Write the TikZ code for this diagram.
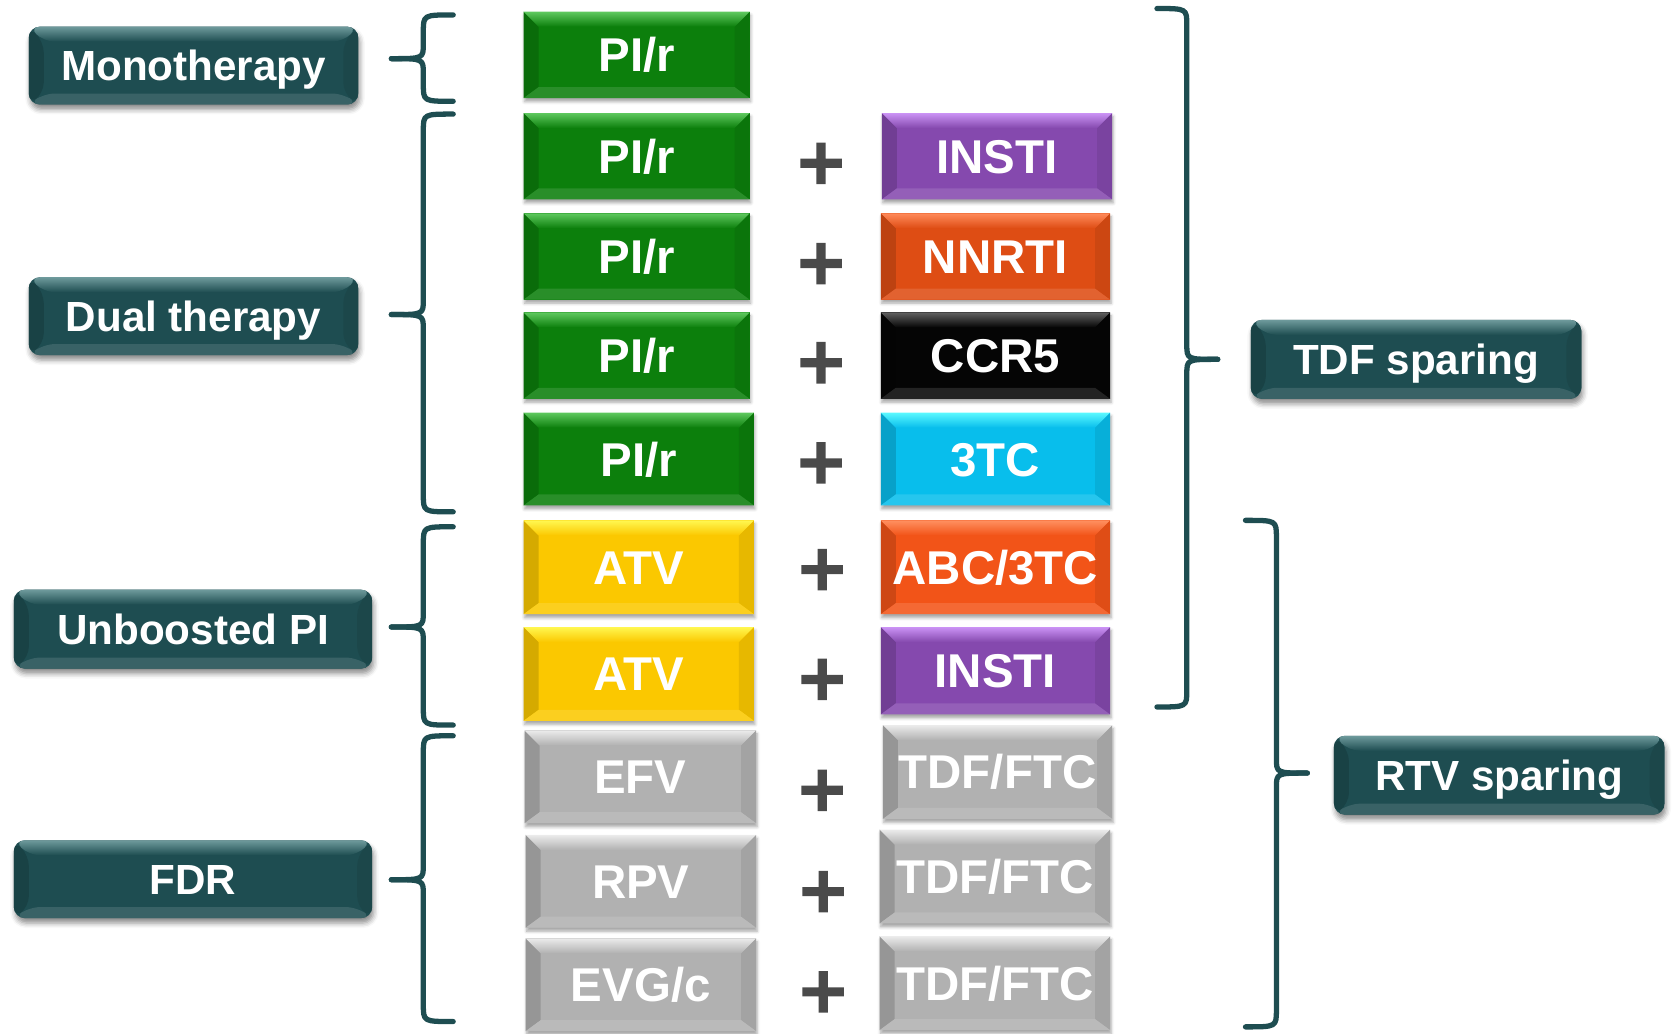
\documentclass[tikz,border=0pt]{standalone}
\usepackage{fontspec}
\setmainfont{Liberation Sans}
\newfontfamily\plusfont{DejaVu Sans}[BoldFeatures={FakeBold=3}]
\usetikzlibrary{shadows,shadows.blur,calc}
\definecolor{teal1}{HTML}{1E4D51}
\definecolor{tealtop}{HTML}{6E9A9C}
\definecolor{green1}{HTML}{0C7F0C}
\definecolor{greentop}{HTML}{5EC85E}
\definecolor{purple1}{HTML}{8549AE}
\definecolor{purpletop}{HTML}{CB93F5}
\definecolor{orange1}{HTML}{DE4D14}
\definecolor{orangetop}{HTML}{FF8A5A}
\definecolor{orange2}{HTML}{F25418}
\definecolor{orange2top}{HTML}{FF9060}
\definecolor{black1}{HTML}{050505}
\definecolor{blacktop}{HTML}{606060}
\definecolor{cyan1}{HTML}{08BEEC}
\definecolor{cyantop}{HTML}{5AF8FF}
\definecolor{yellow1}{HTML}{FBC800}
\definecolor{yellowtop}{HTML}{FFF750}
\definecolor{gray1}{HTML}{B1B1B1}
\definecolor{graytop}{HTML}{EBEBEB}
\definecolor{plusgray}{HTML}{4A4A4A}
\newcommand\pxu{0.021327cm}
\newcommand\bracegrp[6]{% xend, xv, xtip, y1, ytip, y2
  \draw[brc] (#1,#4) .. controls (#2,#4) .. (#2,#4+16) -- (#2,#5-14) .. controls (#2,#5) .. (#3,#5);
  \draw[brc] (#3,#5) .. controls (#2,#5) .. (#2,#5+14) -- (#2,#6-16) .. controls (#2,#6) .. (#1,#6);
}
\tikzset{
  bevelpic/.style 2 args={
    path picture={
      \path (path picture bounding box.north west) coordinate (pNW)
            (path picture bounding box.north east) coordinate (pNE)
            (path picture bounding box.south west) coordinate (pSW)
            (path picture bounding box.south east) coordinate (pSE);
      \fill[#1!85!black] (pNW) -- ($(pNW)+(0.3cm,-0.3cm)$) -- ($(pSW)+(0.3cm,0.22cm)$) -- (pSW) -- cycle;
      \fill[#1!92!black] (pNE) -- ($(pNE)+(-0.3cm,-0.3cm)$) -- ($(pSE)+(-0.3cm,0.22cm)$) -- (pSE) -- cycle;
      \fill[#1!88!white] (pSW) -- ($(pSW)+(0.3cm,0.22cm)$) -- ($(pSE)+(-0.3cm,0.22cm)$) -- (pSE) -- cycle;
      \shade[top color=#2, bottom color=#1] (pNW) -- (pNE) -- ($(pNE)+(-0.3cm,-0.3cm)$) -- ($(pNW)+(0.3cm,-0.3cm)$) -- cycle;
    }
  },
  drug/.style 2 args={
    fill=#1, text=white, inner sep=0pt,
    font=\bfseries\fontsize{27}{30}\selectfont,
    text height=19.3pt, text depth=0pt,
    blur shadow={shadow xshift=0.02cm, shadow yshift=-0.07cm, shadow blur radius=0.06cm, shadow opacity=35},
    bevelpic={#1}{#2}
  },
  lab/.style={
    fill=teal1, text=white, inner sep=0pt, rounded corners=0.22cm,
    font=\bfseries\fontsize{24}{28}\selectfont,
    text height=17.2pt, text depth=0pt,
    minimum width=309*\pxu, minimum height=73*\pxu,
    blur shadow={shadow xshift=0.03cm, shadow yshift=-0.1cm, shadow blur radius=0.1cm, shadow opacity=45},
    bevelpic={teal1}{tealtop}
  },
  plussign/.style={text=plusgray, inner sep=0pt,
    font=\plusfont\bfseries\fontsize{36}{38}\selectfont, text height=25.2pt, text depth=0pt},
  brc/.style={draw=teal1, line width=3pt, line cap=round, line join=round},
}
\begin{document}
\begin{tikzpicture}[x=0.021327cm, y=-0.021327cm]
\useasboundingbox (0,0) rectangle (1568,969);

% category labels
\node[lab] (mono) at (181.5,61.5) {Monotherapy};
\node[lab] (dual) at (181.5,296.5) {Dual therapy};
\node[lab, minimum width=336*\pxu, minimum height=74*\pxu] (unb) at (181,590) {Unboosted PI};
\node[lab, minimum width=336*\pxu] (fdr) at (181,824.5) {FDR};
\node[lab, minimum width=310*\pxu, minimum height=74*\pxu] (tdf) at (1328,337) {TDF sparing};
\node[lab, minimum width=310*\pxu, minimum height=74*\pxu] (rtv) at (1406,727) {RTV sparing};

% left column
\node[drug={green1}{greentop}, minimum width=212*\pxu, minimum height=81*\pxu] (l1) at (597,51.5) {PI/r};
\node[drug={green1}{greentop}, minimum width=212*\pxu, minimum height=81*\pxu] (l2) at (597,146.5) {PI/r};
\node[drug={green1}{greentop}, minimum width=212*\pxu, minimum height=81*\pxu] (l3) at (597,240.5) {PI/r};
\node[drug={green1}{greentop}, minimum width=212*\pxu, minimum height=81*\pxu] (l4) at (597,333.5) {PI/r};
\node[drug={green1}{greentop}, minimum width=216*\pxu, minimum height=87*\pxu] (l5) at (599,430.5) {PI/r};
\node[drug={yellow1}{yellowtop}, minimum width=216*\pxu, minimum height=88*\pxu] (l6) at (599,532) {ATV};
\node[drug={yellow1}{yellowtop}, minimum width=216*\pxu, minimum height=88*\pxu] (l7) at (599,632) {ATV};
\node[drug={gray1}{graytop}, minimum width=217*\pxu, minimum height=87*\pxu] (l8) at (600.5,728.5) {EFV};
\node[drug={gray1}{graytop}, minimum width=216*\pxu, minimum height=87*\pxu] (l9) at (601,826.5) {RPV};
\node[drug={gray1}{graytop}, minimum width=216*\pxu, minimum height=87*\pxu] (l10) at (601,923.5) {EVG/c};

% right column
\node[drug={purple1}{purpletop}, minimum width=216*\pxu, minimum height=81*\pxu] (r2) at (935,146.5) {INSTI};
\node[drug={orange1}{orangetop}, minimum width=215*\pxu, minimum height=81*\pxu] (r3) at (933.5,240.5) {NNRTI};
\node[drug={black1}{blacktop}, minimum width=215*\pxu, minimum height=81*\pxu] (r4) at (933.5,333.5) {CCR5};
\node[drug={cyan1}{cyantop}, minimum width=215*\pxu, minimum height=87*\pxu] (r5) at (933.5,430.5) {3TC};
\node[drug={orange2}{orange2top}, minimum width=215*\pxu, minimum height=88*\pxu] (r6) at (933.5,532) {ABC/3TC};
\node[drug={purple1}{purpletop}, minimum width=215*\pxu, minimum height=82*\pxu] (r7) at (933.5,629) {INSTI};
\node[drug={gray1}{graytop}, minimum width=215*\pxu, minimum height=88*\pxu] (r8) at (935.5,724) {TDF/FTC};
\node[drug={gray1}{graytop}, minimum width=216*\pxu, minimum height=88*\pxu] (r9) at (933,822) {TDF/FTC};
\node[drug={gray1}{graytop}, minimum width=216*\pxu, minimum height=88*\pxu] (r10) at (933,922) {TDF/FTC};

% plus signs
\node[plussign] (p2) at (770,151) {+};
\node[plussign] (p3) at (770,245) {+};
\node[plussign] (p4) at (770,338) {+};
\node[plussign] (p5) at (770,432) {+};
\node[plussign] (p6) at (771,532) {+};
\node[plussign] (p7) at (771,635) {+};
\node[plussign] (p8) at (771,739) {+};
\node[plussign] (p9) at (772,834) {+};
\node[plussign] (p10) at (772,928) {+};

% braces
\bracegrp{425}{397}{367}{14}{55}{95}
\bracegrp{425}{397}{367}{107}{295}{480}
\bracegrp{425}{397}{367}{494}{588}{680}
\bracegrp{425}{397}{367}{690}{825}{958}
\bracegrp{1085}{1113}{1142}{8}{337}{663}
\bracegrp{1168}{1197}{1226}{488}{725}{963}
\end{tikzpicture}
\end{document}
